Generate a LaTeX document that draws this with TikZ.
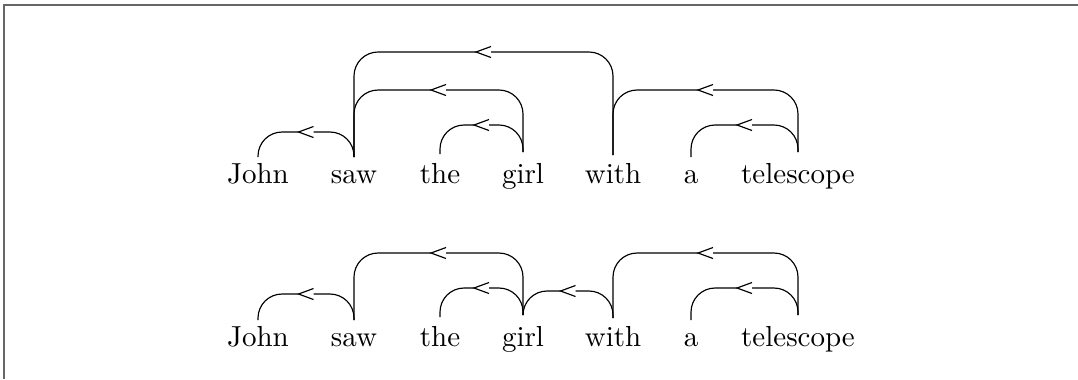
\documentclass[tikz,border=0pt]{standalone}
\usetikzlibrary{calc}
\tikzset{
  x=0.345pt, y=-0.345pt,
  word/.style={inner sep=0pt, anchor=base, font=\normalsize},
  depline/.style={draw=black, line width=0.4pt},
  deptip/.style={draw=black, line width=0.4pt, line join=miter},
  frameline/.style={draw=black!60, line width=0.55pt}
}
% #1 left node, #2 start offset above its baseline (px), #3 right node,
% #4 start offset above its baseline (px), #5 height of the arc above the baseline (px)
\newcommand\deparc[5]{%
  \draw[depline, rounded corners=8.3pt] let \p1=(#1.base), \p2=(#3.base) in
    (\x1,{\y1+#2*0.345pt}) -- (\x1,{\y1+#5*0.345pt})
    -- ({(\x1+\x2)/2-7.5*0.345pt},{\y1+#5*0.345pt});
  \draw[depline, rounded corners=8.3pt] let \p1=(#1.base), \p2=(#3.base) in
    ({(\x1+\x2)/2+7.5*0.345pt},{\y1+#5*0.345pt}) -- (\x2,{\y1+#5*0.345pt})
    -- (\x2,{\y2+#4*0.345pt});
  \draw[deptip] let \p1=(#1.base), \p2=(#3.base) in
    ({(\x1+\x2)/2+7.5*0.345pt},{\y1+(#5+5.5)*0.345pt})
    -- ({(\x1+\x2)/2-7.5*0.345pt},{\y1+#5*0.345pt})
    -- ({(\x1+\x2)/2+7.5*0.345pt},{\y1+(#5-5.5)*0.345pt});
}
\begin{document}
\begin{tikzpicture}
\useasboundingbox (0,0) rectangle (1078,379);
\draw[frameline] (1078,5) -- (4,5) -- (4,379);

% first parse
\node[word] (j1)   at (258,183) {John};
\node[word] (s1)   at (354,183) {saw};
\node[word] (t1)   at (440,183) {the};
\node[word] (g1)   at (523,183) {girl};
\node[word] (w1)   at (613,183) {with};
\node[word] (a1)   at (691,183) {a};
\node[word] (tel1) at (798,183) {telescope};

\deparc{j1}{26}{s1}{26}{51}
\deparc{t1}{29}{g1}{31}{58}
\deparc{a1}{26}{tel1}{31}{58}
\deparc{s1}{26}{g1}{31}{93}
\deparc{w1}{28}{tel1}{31}{93}
\deparc{s1}{26}{w1}{28}{131}

% second parse
\node[word] (j2)   at (258,346) {John};
\node[word] (s2)   at (354,346) {saw};
\node[word] (t2)   at (440,346) {the};
\node[word] (g2)   at (523,346) {girl};
\node[word] (w2)   at (613,346) {with};
\node[word] (a2)   at (691,346) {a};
\node[word] (tel2) at (798,346) {telescope};

\deparc{j2}{26}{s2}{26}{52}
\deparc{t2}{29}{g2}{31}{58}
\deparc{g2}{31}{w2}{28}{55}
\deparc{a2}{26}{tel2}{31}{58}
\deparc{s2}{26}{g2}{31}{93}
\deparc{w2}{28}{tel2}{31}{93}
\end{tikzpicture}
\end{document}
